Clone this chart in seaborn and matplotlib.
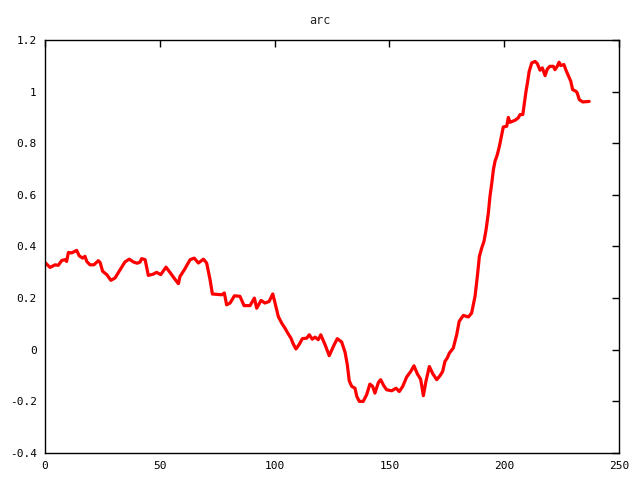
import matplotlib
matplotlib.use("Agg")
import matplotlib.pyplot as plt
import seaborn as sns
import pandas as pd

title = "arc"
x_vals = [0, 2.2, 4.4, 5.8, 7.3, 8.7, 9.4, 10.2, 11.6, 13.8, 14.9, 16.4, 17.4, 18.2, 19.6,
          21.3, 23.2, 24.0, 25.1, 26.9, 28.7, 30.5, 32.7, 34.8, 36.7, 38.5, 40.2, 41.4, 42.1,
          43.6, 45.0, 47.2, 48.6, 50.4, 52.7, 54.4, 56.2, 58.1, 58.8, 60.7, 63.2, 65.0, 66.8,
          69.0, 70.4, 71.9, 72.9, 77.0, 78.1, 79.1, 80.6, 82.5, 84.9, 86.7, 89.3, 91.2, 92.2,
          94.1, 95.8, 97.6, 99.2, 100.2, 101.6, 103.1, 104.5, 105.7, 107.1, 108.1, 109.3,
          110.6, 112.1, 114.0, 115.1, 116.4, 117.6, 119.0, 120.1, 122.0, 123.8, 125.6, 127.3,
          129.2, 130.7, 131.7, 132.5, 133.6, 135.0, 135.8, 136.9, 138.6, 140.1, 141.5, 142.7,
          143.7, 145.2, 146.2, 147.6, 148.8, 151.0, 152.9, 154.3, 155.8, 157.5, 159.3, 160.7,
          162.2, 163.6, 164.8, 165.9, 167.4, 168.9, 170.6, 172.0, 173.2, 174.2, 175.2, 176.1,
          177.8, 179.3, 180.4, 182.2, 184.4, 185.8, 187.3, 188.3, 189.2, 190.2, 191.2, 192.1,
          193.1, 193.8, 194.6, 195.3, 196.0, 197.0, 197.9, 198.9, 199.6, 201.1, 201.8, 202.5,
          204.7, 206.1, 206.9, 208.1, 208.6, 209.5, 210.1, 210.9, 212.0, 213.4, 214.4, 215.6,
          216.6, 217.8, 218.8, 219.9, 221.4, 222.1, 223.1, 223.9, 224.6, 226.0, 226.9, 227.9,
          229.0, 229.8, 231.3, 231.8, 232.7, 234.2, 237.0]
y_vals = [0.338, 0.319, 0.329, 0.327, 0.346, 0.349, 0.342, 0.377, 0.375, 0.385, 0.364, 0.355,
          0.362, 0.342, 0.329, 0.329, 0.345, 0.338, 0.304, 0.291, 0.269, 0.278, 0.310, 0.340,
          0.351, 0.340, 0.335, 0.340, 0.353, 0.349, 0.288, 0.293, 0.300, 0.291, 0.320, 0.300,
          0.278, 0.256, 0.284, 0.310, 0.349, 0.355, 0.336, 0.351, 0.336, 0.271, 0.216, 0.213,
          0.220, 0.174, 0.181, 0.209, 0.207, 0.171, 0.171, 0.200, 0.161, 0.191, 0.181, 0.187,
          0.216, 0.181, 0.129, 0.103, 0.084, 0.065, 0.045, 0.023, 0.003, 0.019, 0.043, 0.045,
          0.058, 0.041, 0.049, 0.039, 0.058, 0.019, -0.023, 0.013, 0.043, 0.030, -0.010, -0.060,
          -0.120, -0.142, -0.149, -0.181, -0.200, -0.200, -0.174, -0.133, -0.142, -0.168,
          -0.127, -0.116, -0.140, -0.155, -0.159, -0.149, -0.162, -0.142, -0.106, -0.084,
          -0.062, -0.094, -0.114, -0.178, -0.123, -0.065, -0.093, -0.116, -0.101, -0.084,
          -0.045, -0.032, -0.013, 0.006, 0.058, 0.110, 0.133, 0.127, 0.142, 0.207, 0.284,
          0.362, 0.394, 0.420, 0.465, 0.530, 0.594, 0.646, 0.698, 0.730, 0.756, 0.788, 0.833,
          0.863, 0.866, 0.900, 0.881, 0.889, 0.898, 0.911, 0.911, 0.943, 1.001, 1.033, 1.079,
          1.111, 1.117, 1.109, 1.083, 1.092, 1.062, 1.088, 1.098, 1.098, 1.085, 1.098, 1.114,
          1.101, 1.105, 1.083, 1.062, 1.040, 1.008, 1.001, 0.995, 0.969, 0.960, 0.962]

x_ticks = [0, 50, 100, 150, 200, 250]
x_tick_labels = ["0", "50", "100", "150", "200", "250"]
y_ticks = [-0.4, -0.2, 0, 0.2, 0.4, 0.6, 0.8, 1, 1.2]
y_tick_labels = ["-0.4", "-0.2", "0", "0.2", "0.4", "0.6", "0.8", "1", "1.2"]

df = pd.DataFrame({"x": x_vals, "y": y_vals})

sns.set_style("white")
plt.rcParams["font.family"] = ["DejaVu Sans Mono"]

fig = plt.figure(figsize=(6.4, 4.8), dpi=100)
ax = fig.add_axes([45/640, 1 - 453/480, (619 - 45)/640, (453 - 40)/480])

sns.lineplot(data=df, x="x", y="y", ax=ax, color="#ff0000", linewidth=2.3,
             sort=False, estimator=None)

ax.set_xlim(0, 250)
ax.set_ylim(-0.4, 1.2)
ax.set_xticks(x_ticks)
ax.set_xticklabels(x_tick_labels)
ax.set_yticks(y_ticks)
ax.set_yticklabels(y_tick_labels)
ax.set_xlabel("")
ax.set_ylabel("")
ax.tick_params(direction="in", length=5, width=1, top=True, right=True,
               labelsize=8, colors="black", pad=6)
for s in ax.spines.values():
    s.set_color("black")
    s.set_linewidth(1)
    s.set_visible(True)
fig.text(0.5, 1 - 20/480, title, ha="center", va="center", fontsize=8.5)

fig.savefig("out.png", dpi=100)
